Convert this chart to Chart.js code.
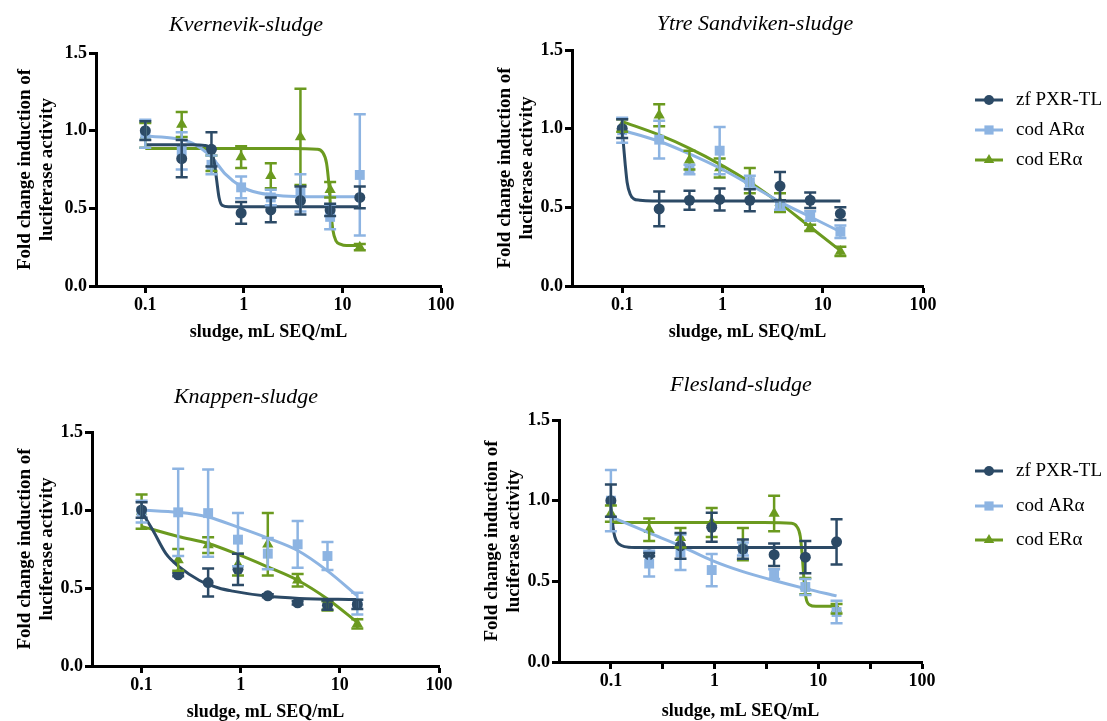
<!DOCTYPE html>
<html lang="en">
<head>
  <meta charset="UTF-8">
  <title>Sludge extracts – luciferase reporter assays</title>
  <script src="https://cdn.jsdelivr.net/npm/chart.js"></script>
  <style>
    body {
      margin: 0;
      width: 1107px;
      height: 721px;
      overflow: hidden;
      position: relative;
      background: #fff;
    }
    canvas { position: absolute; }
  </style>
</head>
<body>
  <canvas id="kvernevik" width="460" height="343" style="left:0;top:0"></canvas>
  <canvas id="ytre" width="631" height="343" style="left:476px;top:0"></canvas>
  <canvas id="knappen" width="460" height="353" style="left:0;top:370px"></canvas>
  <canvas id="flesland" width="640" height="362" style="left:467px;top:360px"></canvas>

  <script>
    // shared axis data
    const doses = [0.1, 0.234, 0.469, 0.938, 1.875, 3.75, 7.5, 15];
    const xRange = [0.0316, 100];
    const xTickValues = [0.1, 1, 10, 100];
    const xTickLabels = ['0.1', '1', '10', '100'];
    const xMinorTicks = [0.316, 3.16, 31.6];   // only the Flesland panel shows these
    const yTickValues = [0, 0.5, 1, 1.5];
    const yTickLabels = ['0.0', '0.5', '1.0', '1.5'];
    const seriesNames = ['zf PXR-TL', 'cod ARα', 'cod ERα'];

    // Kvernevik
    const kvPxr    = [1.00, 0.82, 0.88, 0.47, 0.49, 0.55, 0.49, 0.57];
    const kvPxrErr = [0.06, 0.12, 0.11, 0.07, 0.08, 0.09, 0.04, 0.07];
    const kvAr     = [0.98, 0.87, 0.78, 0.635, 0.57, 0.60, 0.445, 0.715];
    const kvArErr  = [0.09, 0.12, 0.06, 0.07, 0.05, 0.12, 0.08, 0.39];
    const kvEr     = [0.97, 1.04, 0.79, 0.83, 0.71, 0.96, 0.62, 0.25];
    const kvErErr  = [0.08, 0.08, 0.05, 0.07, 0.08, 0.31, 0.05, 0.02];
    const kvPxrFitX = [0.1, 0.3, 0.4, 0.46, 0.5, 0.53, 0.56, 0.6, 0.7, 15];
    const kvPxrFitY = [0.91, 0.91, 0.905, 0.88, 0.8, 0.68, 0.57, 0.52, 0.51, 0.51];
    const kvArFitX  = [0.1, 0.2, 0.3, 0.47, 0.65, 0.94, 1.4, 2.5, 5, 15];
    const kvArFitY  = [0.965, 0.95, 0.92, 0.83, 0.72, 0.64, 0.6, 0.58, 0.575, 0.575];
    const kvErFitX  = [0.1, 3, 5.5, 6.3, 6.9, 7.3, 7.6, 8, 8.6, 9.5, 11, 15];
    const kvErFitY  = [0.885, 0.885, 0.88, 0.86, 0.79, 0.65, 0.5, 0.36, 0.29, 0.27, 0.26, 0.26];

    // Ytre Sandviken
    const ysPxr    = [1.00, 0.49, 0.545, 0.55, 0.545, 0.635, 0.545, 0.46];
    const ysPxrErr = [0.06, 0.11, 0.06, 0.07, 0.07, 0.09, 0.05, 0.04];
    const ysAr     = [0.99, 0.93, 0.74, 0.86, 0.66, 0.515, 0.445, 0.345];
    const ysArErr  = [0.08, 0.12, 0.03, 0.15, 0.04, 0.03, 0.03, 0.04];
    const ysEr     = [1.02, 1.085, 0.80, 0.75, 0.67, 0.53, 0.37, 0.22];
    const ysErErr  = [0.04, 0.07, 0.06, 0.06, 0.08, 0.06, 0.02, 0.03];
    const ysPxrFitX = [0.1, 0.103, 0.107, 0.112, 0.12, 0.13, 0.15, 0.2, 15];
    const ysPxrFitY = [0.98, 0.9, 0.78, 0.66, 0.585, 0.555, 0.545, 0.54, 0.54];
    const ysArFitY  = [0.99, 0.92, 0.84, 0.75, 0.645, 0.535, 0.44, 0.345];
    const ysErFitY  = [1.045, 0.96, 0.875, 0.775, 0.66, 0.525, 0.375, 0.225];

    // Knappen
    const knPxr    = [1.00, 0.585, 0.535, 0.62, 0.45, 0.405, 0.39, 0.395];
    const knPxrErr = [0.05, 0.01, 0.09, 0.10, 0.01, 0.01, 0.03, 0.03];
    const knAr     = [0.99, 0.985, 0.98, 0.81, 0.72, 0.78, 0.705, 0.40];
    const knArErr  = [0.07, 0.28, 0.28, 0.17, 0.10, 0.15, 0.09, 0.07];
    const knEr     = [0.99, 0.68, 0.775, 0.65, 0.78, 0.55, 0.385, 0.27];
    const knErErr  = [0.11, 0.07, 0.05, 0.07, 0.20, 0.04, 0.03, 0.03];
    const knPxrFitX = [0.1, 0.13, 0.176, 0.24, 0.38, 0.6, 0.83, 1.8, 3.9, 15];
    const knPxrFitY = [0.99, 0.87, 0.72, 0.635, 0.55, 0.5, 0.48, 0.448, 0.433, 0.426];
    const knArFitY  = [1.0, 0.985, 0.955, 0.89, 0.82, 0.74, 0.61, 0.45];
    const knErFitY  = [0.895, 0.83, 0.785, 0.715, 0.635, 0.55, 0.43, 0.28];

    // Flesland
    const flPxr    = [1.00, 0.665, 0.72, 0.835, 0.70, 0.665, 0.65, 0.745];
    const flPxrErr = [0.10, 0.01, 0.08, 0.09, 0.06, 0.07, 0.10, 0.14];
    const flAr     = [1.00, 0.61, 0.68, 0.57, 0.70, 0.545, 0.465, 0.31];
    const flArErr  = [0.19, 0.08, 0.11, 0.10, 0.04, 0.03, 0.05, 0.07];
    const flEr     = [0.92, 0.82, 0.77, 0.865, 0.73, 0.92, 0.47, 0.33];
    const flErErr  = [0.05, 0.07, 0.06, 0.09, 0.10, 0.11, 0.05, 0.03];
    const flPxrFitX = [0.1, 0.103, 0.107, 0.112, 0.12, 0.135, 0.17, 15];
    const flPxrFitY = [0.97, 0.88, 0.8, 0.755, 0.73, 0.715, 0.71, 0.71];
    const flArFitY  = [0.9, 0.8, 0.72, 0.63, 0.56, 0.505, 0.455, 0.41];
    const flErFitX  = [0.1, 3, 5.5, 6.2, 6.7, 7.0, 7.3, 7.6, 8.2, 9.5, 15];
    const flErFitY  = [0.865, 0.865, 0.86, 0.84, 0.78, 0.66, 0.5, 0.4, 0.355, 0.345, 0.345];

    Chart.defaults.font.family = '"Liberation Serif", "Times New Roman", serif';
    Chart.defaults.color = '#000';

    const looks = [
      { color: '#2c4a66', pointStyle: 'circle',   radius: 5.5 },
      { color: '#8db4e2', pointStyle: 'rect',     radius: 7 },
      { color: '#6b9a1f', pointStyle: 'triangle', radius: 6.5 }
    ];

    const pts = (xs, ys) => xs.map((x, i) => ({ x, y: ys[i] }));

    // vertical SEM bars with caps, through the chart scales
    const errorBars = {
      id: 'errorBars',
      afterDatasetsDraw(chart) {
        const { ctx, scales: { x, y } } = chart;
        const sets = chart.data.datasets.filter(d => d.errors).reverse();
        ctx.save();
        ctx.lineWidth = 2.5;
        sets.forEach(d => {
          ctx.strokeStyle = d.borderColor;
          d.data.forEach((p, j) => {
            const px = x.getPixelForValue(p.x);
            const hi = y.getPixelForValue(p.y + d.errors[j]);
            const lo = y.getPixelForValue(p.y - d.errors[j]);
            ctx.beginPath();
            ctx.moveTo(px, hi); ctx.lineTo(px, lo);
            ctx.moveTo(px - 6, hi); ctx.lineTo(px + 6, hi);
            ctx.moveTo(px - 6, lo); ctx.lineTo(px + 6, lo);
            ctx.stroke();
          });
        });
        ctx.restore();
      }
    };

    const panelTitle = {
      id: 'panelTitle',
      afterDraw(chart, args, opts) {
        const ctx = chart.ctx;
        ctx.save();
        ctx.font = 'italic 22px "Liberation Serif"';
        ctx.fillStyle = '#000';
        ctx.textAlign = 'center';
        ctx.textBaseline = 'middle';
        ctx.fillText(opts.text, opts.x, opts.y);
        ctx.restore();
      }
    };

    // legend: short line with the marker in the middle, then the name
    const seriesKey = {
      id: 'seriesKey',
      afterDraw(chart, args, opts) {
        if (!opts.rows) return;
        const ctx = chart.ctx;
        ctx.save();
        chart.data.datasets.filter(d => d.errors).forEach((d, i) => {
          const y = opts.rows[i];
          ctx.strokeStyle = d.borderColor;
          ctx.lineWidth = 3;
          ctx.beginPath();
          ctx.moveTo(opts.x, y);
          ctx.lineTo(opts.x + 28, y);
          ctx.stroke();
          ctx.fillStyle = d.backgroundColor;
          Chart.helpers.drawPoint(ctx, { pointStyle: d.pointStyle, radius: d.pointRadius - 0.5, rotation: 0, borderWidth: 0 }, opts.x + 14, y);
          ctx.fillStyle = '#000';
          ctx.font = '19px "Liberation Serif"';
          ctx.textAlign = 'left';
          ctx.textBaseline = 'middle';
          ctx.fillText(d.label, opts.x + 41, y);
        });
        ctx.restore();
      }
    };

    function buildPanel(id, box, series, tickVals, tickLabels) {
      const datasets = [];
      series.forEach((s, i) => {
        const look = looks[i];
        datasets.push({
          label: seriesNames[i],
          data: pts(doses, s.mean),
          errors: s.err,
          showLine: false,
          pointStyle: look.pointStyle,
          pointRadius: look.radius,
          pointHoverRadius: look.radius,
          pointBorderWidth: 0,
          backgroundColor: look.color,
          borderColor: look.color
        });
        datasets.push({
          label: seriesNames[i] + ' fit',
          data: pts(s.fitX, s.fitY),
          pointRadius: 0,
          borderWidth: 3,
          borderColor: look.color,
          cubicInterpolationMode: 'monotone',
          fill: false
        });
      });

      const axisGrid = { drawOnChartArea: false, drawTicks: true, tickLength: 7, tickWidth: 3, tickColor: '#000' };
      const axisBorder = { display: true, color: '#000', width: 3 };
      const tickFont = { size: 18, weight: 'bold' };

      new Chart(document.getElementById(id), {
        type: 'line',
        data: { datasets },
        options: {
          responsive: false,
          animation: false,
          devicePixelRatio: 1,
          layout: { padding: { top: box.top, left: 0, right: box.right, bottom: 0 } },
          plugins: {
            legend: { display: false },
            tooltip: { enabled: false },
            panelTitle: { text: box.title, x: box.titleX, y: box.titleY },
            seriesKey: { x: box.keyX, rows: box.keyRows }
          },
          scales: {
            x: {
              type: 'logarithmic',
              min: xRange[0],
              max: xRange[1],
              afterBuildTicks: s => { s.ticks = tickVals.map(v => ({ value: v })); },
              afterFit: s => { s.height = box.xHeight; },
              ticks: { autoSkip: false, maxRotation: 0, padding: 2, font: tickFont, callback: (v, i) => tickLabels[i] },
              grid: axisGrid,
              border: axisBorder,
              title: {
                display: true,
                text: 'sludge, mL SEQ/mL',
                font: { size: 18, weight: 'bold', lineHeight: 1.2 },
                padding: { top: 0, bottom: 0 }
              }
            },
            y: {
              min: 0,
              max: 1.5,
              afterBuildTicks: s => { s.ticks = yTickValues.map(v => ({ value: v })); },
              afterFit: s => { s.width = box.yWidth; },
              ticks: { padding: 2, font: tickFont, callback: (v, i) => yTickLabels[i] },
              grid: axisGrid,
              border: axisBorder,
              title: {
                display: true,
                text: ['Fold change induction of', 'luciferase activity'],
                font: { size: 19, weight: 'bold', lineHeight: 1.15 },
                padding: { top: box.yTitlePad, bottom: 0 }
              }
            }
          }
        },
        plugins: [errorBars, panelTitle, seriesKey]
      });
    }

    buildPanel('kvernevik',
      { title: 'Kvernevik-sludge', titleX: 246, titleY: 25, top: 53, right: 19, yWidth: 96, xHeight: 57, yTitlePad: 14 },
      [
        { mean: kvPxr, err: kvPxrErr, fitX: kvPxrFitX, fitY: kvPxrFitY },
        { mean: kvAr,  err: kvArErr,  fitX: kvArFitX,  fitY: kvArFitY },
        { mean: kvEr,  err: kvErErr,  fitX: kvErFitX,  fitY: kvErFitY }
      ], xTickValues, xTickLabels);

    buildPanel('ytre',
      { title: 'Ytre Sandviken-sludge', titleX: 279, titleY: 24, top: 50, right: 184, yWidth: 96, xHeight: 57, yTitlePad: 18,
        keyX: 499, keyRows: [100, 130, 160] },
      [
        { mean: ysPxr, err: ysPxrErr, fitX: ysPxrFitX, fitY: ysPxrFitY },
        { mean: ysAr,  err: ysArErr,  fitX: doses,     fitY: ysArFitY },
        { mean: ysEr,  err: ysErErr,  fitX: doses,     fitY: ysErFitY }
      ], xTickValues, xTickLabels);

    buildPanel('knappen',
      { title: 'Knappen-sludge', titleX: 246, titleY: 27, top: 62, right: 21, yWidth: 92, xHeight: 57, yTitlePad: 14 },
      [
        { mean: knPxr, err: knPxrErr, fitX: knPxrFitX, fitY: knPxrFitY },
        { mean: knAr,  err: knArErr,  fitX: doses,     fitY: knArFitY },
        { mean: knEr,  err: knErErr,  fitX: doses,     fitY: knErFitY }
      ], xTickValues, xTickLabels);

    buildPanel('flesland',
      { title: 'Flesland-sludge', titleX: 274, titleY: 25, top: 60, right: 185, yWidth: 92, xHeight: 60, yTitlePad: 14,
        keyX: 508, keyRows: [111, 146, 180] },
      [
        { mean: flPxr, err: flPxrErr, fitX: flPxrFitX, fitY: flPxrFitY },
        { mean: flAr,  err: flArErr,  fitX: doses,     fitY: flArFitY },
        { mean: flEr,  err: flErErr,  fitX: flErFitX,  fitY: flErFitY }
      ], xTickValues.concat(xMinorTicks), xTickLabels.concat(['', '', '']));
  </script>
</body>
</html>
